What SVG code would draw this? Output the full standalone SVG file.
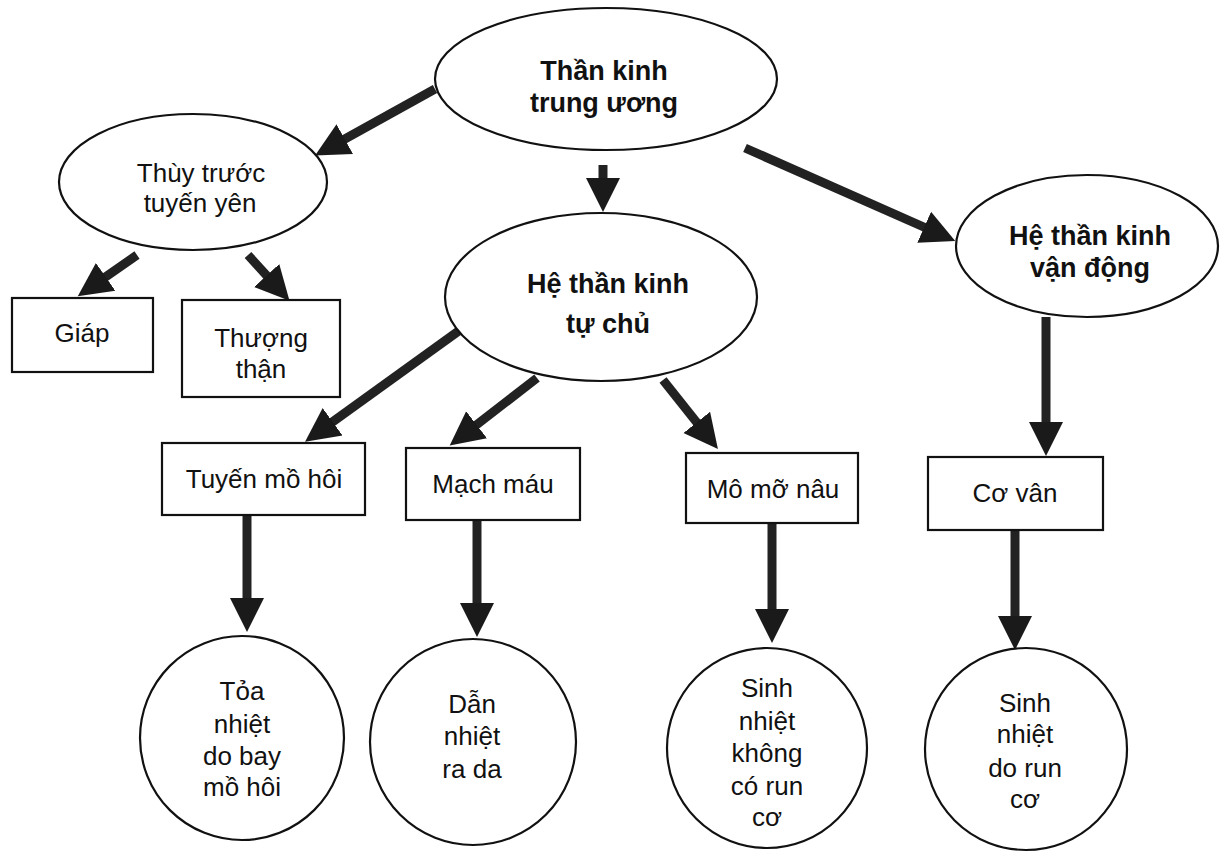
<svg xmlns="http://www.w3.org/2000/svg" width="1228" height="863" viewBox="0 0 1228 863">
<style>
.shape{fill:#fff;stroke:#111;stroke-width:2.2}
.t{font-family:"Liberation Sans",Arial,sans-serif;font-size:26px;fill:#111;text-anchor:middle}
.b{font-weight:bold;font-size:27px}
.c{stroke:#222;stroke-width:9;fill:none;marker-end:url(#ah)}
</style>
<defs>
<marker id="ah" markerUnits="userSpaceOnUse" markerWidth="36" markerHeight="36" viewBox="0 0 36 36" refX="2" refY="18" orient="auto">
<path d="M0,1 L34,18 L0,35 z" fill="#1a1a1a"/>
</marker>
</defs>
<rect width="1228" height="863" fill="#fff"/>
<g id="connectors">
<line class="c" x1="435" y1="89" x2="343" y2="140"/>
<line class="c" x1="603" y1="165" x2="603" y2="180"/>
<line class="c" x1="745" y1="148" x2="926" y2="228"/>
<line class="c" x1="137" y1="255" x2="104" y2="278"/>
<line class="c" x1="248" y1="255" x2="268" y2="277"/>
<line class="c" x1="460" y1="330" x2="331" y2="423"/>
<line class="c" x1="537" y1="378" x2="475" y2="426"/>
<line class="c" x1="663" y1="380" x2="698" y2="424"/>
<line class="c" x1="1046" y1="317" x2="1046" y2="424"/>
<line class="c" x1="247" y1="515" x2="247" y2="600"/>
<line class="c" x1="477" y1="520" x2="477" y2="605"/>
<line class="c" x1="772" y1="523" x2="772" y2="611"/>
<line class="c" x1="1015" y1="530" x2="1015" y2="618"/>
</g>
<g id="tk-trung-uong">
<ellipse class="shape" cx="606" cy="79" rx="171" ry="71"/>
<text class="t b" x="604" y="80">Thần kinh</text>
<text class="t b" x="604" y="112">trung ương</text>
</g>
<g id="thuy-truoc">
<ellipse class="shape" cx="193" cy="182" rx="134" ry="68"/>
<text class="t" x="201" y="182">Thùy trước</text>
<text class="t" x="200" y="212">tuyến yên</text>
</g>
<g id="giap">
<rect class="shape" x="12" y="298" width="141" height="74"/>
<text class="t" x="82" y="342">Giáp</text>
</g>
<g id="thuong-than">
<rect class="shape" x="182" y="300" width="158" height="97"/>
<text class="t" x="261" y="347">Thượng</text>
<text class="t" x="261" y="378">thận</text>
</g>
<g id="tk-tu-chu">
<ellipse class="shape" cx="601" cy="297" rx="156" ry="84"/>
<text class="t b" x="608" y="293">Hệ thần kinh</text>
<text class="t b" x="608" y="333">tự chủ</text>
</g>
<g id="tk-van-dong">
<ellipse class="shape" cx="1087" cy="246" rx="131" ry="71"/>
<text class="t b" x="1090" y="245">Hệ thần kinh</text>
<text class="t b" x="1090" y="277">vận động</text>
</g>
<g id="tuyen-mo-hoi">
<rect class="shape" x="162" y="443" width="203" height="72"/>
<text class="t" x="264" y="488">Tuyến mồ hôi</text>
</g>
<g id="mach-mau">
<rect class="shape" x="406" y="448" width="174" height="72"/>
<text class="t" x="493" y="493">Mạch máu</text>
</g>
<g id="mo-mo-nau">
<rect class="shape" x="686" y="453" width="172" height="70"/>
<text class="t" x="773" y="498">Mô mỡ nâu</text>
</g>
<g id="co-van">
<rect class="shape" x="928" y="457" width="175" height="73"/>
<text class="t" x="1015" y="502">Cơ vân</text>
</g>
<g id="toa-nhiet">
<circle class="shape" cx="242" cy="738" r="102"/>
<text class="t" x="242" y="700">Tỏa</text>
<text class="t" x="242" y="733">nhiệt</text>
<text class="t" x="242" y="765">do bay</text>
<text class="t" x="242" y="796">mồ hôi</text>
</g>
<g id="dan-nhiet">
<circle class="shape" cx="473" cy="742" r="103"/>
<text class="t" x="472" y="713">Dẫn</text>
<text class="t" x="472" y="745">nhiệt</text>
<text class="t" x="472" y="778">ra da</text>
</g>
<g id="sinh-nhiet-khong-run">
<circle class="shape" cx="767" cy="748" r="100"/>
<text class="t" x="767" y="697">Sinh</text>
<text class="t" x="767" y="730">nhiệt</text>
<text class="t" x="767" y="762">không</text>
<text class="t" x="767" y="795">có run</text>
<text class="t" x="767" y="826">cơ</text>
</g>
<g id="sinh-nhiet-run">
<circle class="shape" cx="1026" cy="749" r="101"/>
<text class="t" x="1025" y="712">Sinh</text>
<text class="t" x="1025" y="743">nhiệt</text>
<text class="t" x="1025" y="777">do run</text>
<text class="t" x="1025" y="808">cơ</text>
</g>
</svg>
